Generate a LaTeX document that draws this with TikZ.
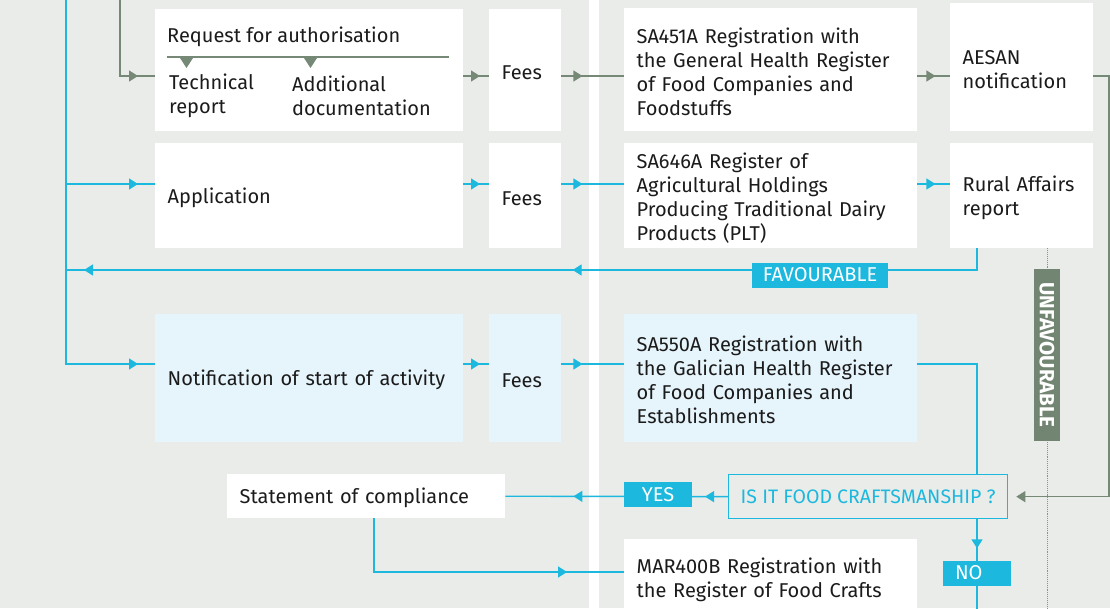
\documentclass[tikz,border=0pt]{standalone}
\usepackage{fontspec}
\setmainfont{Fira Sans}
\usetikzlibrary{arrows.meta,decorations.markings}

\definecolor{panel}{HTML}{EAECE9}
\definecolor{flow}{HTML}{1DB8DE}
\definecolor{paleblue}{HTML}{E6F4FB}
\definecolor{sage}{HTML}{768876}
\definecolor{sagefill}{HTML}{728472}
\definecolor{ink}{HTML}{1B1B1B}
\definecolor{dots}{HTML}{8C918C}

\newcommand\bodytype{\fontsize{20}{24}\selectfont\hyphenpenalty=10000\exhyphenpenalty=10000}
\newcommand\tagtype{\fontsize{20}{22}\selectfont}

\tikzset{
  >={Triangle[length=9pt,width=11pt]},
  headat/.style={postaction={decorate,decoration={markings,mark=at position #1 with {\arrow{>}}}}},
  sageline/.style={color=sage, line width=1.3pt},
  flowline/.style={color=flow, line width=1.4pt},
  box/.style={fill=white, anchor=north west, inner xsep=12.5pt, inner ysep=0pt,
              align=left, text=ink, font=\bodytype,
              execute at begin node={\rule{0pt}{19.5pt}}},
  palebox/.style={box, fill=paleblue},
  plain/.style={inner sep=0pt, text=ink, font=\bodytype, align=left},
  tag/.style={fill=flow, text=white, inner sep=0pt, minimum height=25pt, font=\tagtype},
}

\begin{document}
\begin{tikzpicture}[x=1pt, y=-1pt]
  \useasboundingbox (0,0) rectangle (1110,608);
  % two grey panels separated by a white gap
  \fill[white] (0,0) rectangle (1110,608);
  \fill[panel] (0,0) rectangle (589,608);
  \fill[panel] (599,0) rectangle (1110,608);

  % guide coordinates
  \coordinate (r1) at (0,76);
  \coordinate (r2) at (0,184);
  \coordinate (fav) at (0,270);
  \coordinate (r3) at (0,364);
  \coordinate (r5) at (0,572);
  \coordinate (bottom) at (0,612);
  \coordinate (trunktop) at (66,0);
  \coordinate (graytop) at (120,0);
  \coordinate (drop) at (977,0);
  \coordinate (rail) at (1109,0);
  \coordinate (dotx) at (1047,0);
  \coordinate (sdrop) at (374,0);

  % row 1
  \node[box, text width=283pt, minimum height=122pt] (req) at (155,9) {};
  \node[box, text width=47pt, minimum height=122pt] (fees1) at (489,9) {Fees};
  \node[box, text width=268pt, minimum height=123pt] (sa451) at (624,8)
    {SA451A Registration with\\the General Health Register\\of Food Companies and\\Foodstuffs};
  \node[box, text width=118pt, minimum height=128pt] (aesan) at (950,3) {AESAN\\notification};

  \node[plain, anchor=base west] (reqtitle) at (167,42) {Request for authorisation};
  \draw[sageline] (167,57) -- (449,57);
  \fill[sage] (180,58) -- (193,58) -- (186.5,68) -- cycle;
  \fill[sage] (304,58) -- (317,58) -- (310.5,68) -- cycle;
  \node[plain, anchor=west] (tech) at (169,96) {Technical\\report};
  \node[plain, anchor=west] (addl) at (292,95.5) {Additional\\documentation};

  % row 2
  \node[box, text width=283pt, minimum height=105pt] (app) at (155,143) {Application};
  \node[box, text width=47pt, minimum height=105pt] (fees2) at (489,143) {Fees};
  \node[box, text width=268pt, minimum height=105pt] (sa646) at (624,143)
    {SA646A Register of\\Agricultural Holdings\\Producing Traditional Dairy\\Products (PLT)};
  \node[box, text width=118pt, minimum height=105pt] (rural) at (950,143) {Rural Affairs\\report};

  % row 3
  \node[palebox, text width=283pt, minimum height=128pt] (note) at (155,314) {Notification of start of activity};
  \node[palebox, text width=47pt, minimum height=128pt] (fees3) at (489,314) {Fees};
  \node[palebox, text width=268pt, minimum height=128pt] (sa550) at (624,314)
    {SA550A Registration with\\the Galician Health Register\\of Food Companies and\\Establishments};

  % lower part
  \node[box, text width=253pt, minimum height=44pt] (stmt) at (227,474) {Statement of compliance};
  \node[box, text width=268pt, minimum height=78pt] (mar) at (624,539)
    {MAR400B Registration with\\the Register of Food Crafts};
  \node[draw=flow, line width=1.3pt, text=flow, font=\fontsize{19.5}{21}\selectfont,
        minimum width=279pt, minimum height=44pt, inner sep=0pt, anchor=north west]
        (isq) at (728,474) {IS IT FOOD CRAFTSMANSHIP ?};

  % dotted guide behind the unfavourable tag
  \draw[dots, line width=0.9pt, densely dotted] (rural.south -| dotx) -- (dotx |- bottom);

  % grey (authorisation) route
  \draw[sageline, headat=-17pt] (graytop) |- (req.west |- r1);
  \draw[sageline, headat=-9pt] (req.east |- r1) -- (fees1.west |- r1);
  \draw[sageline, headat=21pt] (fees1.east |- r1) -- (sa451.west |- r1);
  \draw[sageline, headat=18pt] (sa451.east |- r1) -- (aesan.west |- r1);
  \draw[sageline, ->, shorten >=8pt] (aesan.east |- r1) -| (rail |- isq.east) -- (isq.east);

  % blue routes
  \draw[flowline, headat=-17pt] (trunktop) |- (note.west |- r3);
  \draw[flowline, headat=-17pt] (trunktop |- r2) -- (app.west |- r2);
  \draw[flowline, headat=-9pt] (app.east |- r2) -- (fees2.west |- r2);
  \draw[flowline, headat=21pt] (fees2.east |- r2) -- (sa646.west |- r2);
  \draw[flowline, headat=18pt] (sa646.east |- r2) -- (rural.west |- r2);
  \draw[flowline, headat=426pt, headat=-18pt] (rural.south -| drop) |- (trunktop |- fav);
  \draw[flowline, headat=-9pt] (note.east |- r3) -- (fees3.west |- r3);
  \draw[flowline, headat=21pt] (fees3.east |- r3) -- (sa550.west |- r3);
  \draw[flowline] (sa550.east |- r3) -| (drop |- isq.north);
  \draw[flowline, headat=29pt] (drop |- isq.south) -- (drop |- bottom);
  \draw[flowline, headat=23pt, headat=-68pt] (isq.west) -- (stmt.east);
  \draw[flowline, headat=-57pt] (stmt.south -| sdrop) |- (mar.west |- r5);

  % decision tags
  \node[tag, minimum width=136pt] (favtag) at (820,275) {FAVOURABLE};
  \node[tag, minimum width=68pt] (yestag) at (658,494.5) {YES};
  \node[tag, text width=44pt, align=left, inner xsep=12pt] (notag) at (977,573) {NO};
  \node[rotate=-90, fill=sagefill, text=white, font=\bfseries\fontsize{20.5}{22}\selectfont,
        minimum width=172pt, minimum height=26pt, inner sep=0pt] (unfav) at (1047,355) {UNFAVOURABLE};
\end{tikzpicture}
\end{document}
